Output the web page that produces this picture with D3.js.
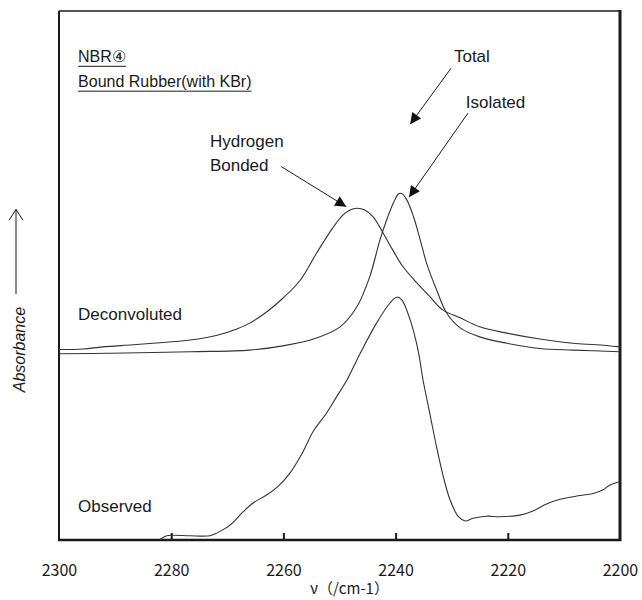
<!DOCTYPE html>
<html>
<head>
<meta charset="utf-8">
<script src="https://cdn.jsdelivr.net/npm/d3@7"></script>
<style>
  body { margin: 0; background: #fff; }
</style>
</head>
<body>
<script>
// x: wavenumber (cm-1), y: absorbance in arbitrary units (0-100)
const hbondWn = [2300.0, 2295.7, 2292.2, 2286.8, 2282.0, 2276.6, 2271.8, 2268.3, 2266.0, 2263.0, 2260.1, 2257.0, 2254.1, 2251.2, 2249.4, 2248.1, 2246.9, 2245.5, 2244.0, 2242.2, 2240.5, 2238.7, 2236.2, 2233.9, 2231.6, 2228.5, 2225.0, 2220.2, 2214.3, 2208.4, 2204.2, 2200.0];
const hbondAbs = [36.0, 36.1, 36.5, 36.9, 37.3, 37.8, 38.7, 39.9, 41.0, 43.1, 45.7, 49.1, 54.2, 59.0, 61.4, 62.4, 62.7, 62.4, 61.1, 58.0, 54.8, 51.7, 48.6, 46.0, 43.5, 42.0, 40.3, 39.1, 38.0, 37.2, 36.9, 36.5];

const isoWn = [2300.0, 2290.9, 2276.6, 2266.0, 2260.1, 2254.1, 2249.9, 2246.9, 2244.6, 2242.8, 2241.6, 2240.4, 2239.5, 2238.9, 2238.0, 2236.8, 2235.6, 2234.5, 2232.7, 2230.9, 2228.5, 2225.0, 2220.2, 2214.3, 2208.4, 2200.0];
const isoAbs = [35.2, 35.3, 35.6, 35.9, 36.7, 38.2, 40.3, 44.1, 49.8, 56.7, 60.5, 63.7, 65.4, 65.5, 64.3, 61.1, 56.7, 52.4, 47.3, 42.9, 40.1, 38.4, 37.2, 36.2, 35.9, 35.6];

const obsWn = [2282.0, 2280.8, 2279.7, 2276.6, 2273.1, 2271.9, 2269.5, 2267.2, 2265.4, 2263.0, 2261.0, 2258.8, 2256.5, 2254.7, 2252.3, 2250.5, 2248.7, 2246.3, 2243.4, 2241.0, 2239.8, 2238.9, 2237.4, 2236.0, 2235.1, 2233.9, 2232.7, 2231.5, 2230.3, 2228.8, 2227.6, 2226.2, 2223.8, 2221.4, 2217.8, 2215.5, 2213.1, 2210.7, 2207.1, 2204.8, 2203.0, 2201.8, 2200.0];
const obsAbs = [0.1, 0.8, 0.9, 0.8, 0.8, 1.3, 2.8, 5.3, 7.0, 8.5, 10.1, 12.7, 16.7, 20.5, 24.0, 27.1, 30.2, 35.3, 41.0, 44.8, 45.9, 45.4, 41.6, 35.9, 30.2, 23.9, 17.6, 12.0, 7.6, 4.4, 3.6, 4.1, 4.5, 4.4, 4.7, 5.5, 6.8, 7.7, 8.4, 8.8, 9.5, 10.4, 11.0];

const tickValues = [2300, 2280, 2260, 2240, 2220, 2200];
const innerTicks = [2280, 2260, 2240, 2220];

// annotation texts, placed in data units [wavenumber, absorbance]
const titleLines = ["NBR\u2463", "Bound Rubber(with KBr)"];
const titlePos = [[2296.6, 90.3], [2296.6, 85.6]];
const labels = ["Total", "Isolated", "Hydrogen", "Bonded", "Deconvoluted", "Observed"];
const labelPos = [[2229.6, 90.3], [2227.5, 81.6], [2273.1, 74.3], [2273.1, 69.7], [2296.6, 41.6], [2296.6, 5.3]];
// arrows: [from, to]
const arrows = [
  [[2230.1, 89.2], [2237.4, 78.6]],
  [[2227.1, 80.7], [2237.6, 64.8]],
  [[2260.4, 70.6], [2248.8, 63.0]]
];

const width = 642;
const height = 600;
const margin = { top: 11, right: 22, bottom: 60, left: 59 };

const x = d3.scaleLinear()
  .domain([2300, 2200])
  .range([margin.left, width - margin.right]);

const y = d3.scaleLinear()
  .domain([0, 100])
  .range([height - margin.bottom, margin.top]);

const svg = d3.select("body").append("svg")
  .attr("width", width)
  .attr("height", height)
  .attr("viewBox", `0 0 ${width} ${height}`);

svg.append("defs").append("marker")
  .attr("id", "head")
  .attr("viewBox", "0 0 10 10")
  .attr("refX", 10)
  .attr("refY", 5)
  .attr("markerWidth", 15)
  .attr("markerHeight", 11)
  .attr("markerUnits", "userSpaceOnUse")
  .attr("orient", "auto")
  .append("path")
  .attr("d", "M0,0L10,5L0,10z")
  .attr("fill", "#111");

// frame, uneven line weights like the scanned figure
const x0 = x.range()[0], x1 = x.range()[1];
const yb = y.range()[0], yt = y.range()[1];
const frame = svg.append("g").attr("stroke", "#1a1a1a").attr("fill", "none");
frame.append("line").attr("x1", x0).attr("x2", x1).attr("y1", yt).attr("y2", yt).attr("stroke-width", 1.5);
frame.append("line").attr("x1", x0).attr("x2", x0).attr("y1", yt).attr("y2", yb).attr("stroke-width", 2);
frame.append("line").attr("x1", x1).attr("x2", x1).attr("y1", yt - 1).attr("y2", yb + 1).attr("stroke-width", 3);
frame.append("line").attr("x1", x0 - 1).attr("x2", x1 + 1).attr("y1", yb).attr("y2", yb).attr("stroke-width", 2.6);

// inner tick marks
svg.append("g")
  .attr("transform", `translate(0,${yb})`)
  .call(d3.axisBottom(x).tickValues(innerTicks).tickSizeInner(-7).tickSizeOuter(0).tickFormat(""))
  .call((g) => g.select(".domain").remove())
  .call((g) => g.selectAll(".tick line").attr("stroke", "#1a1a1a").attr("stroke-width", 2));

// tick labels
svg.append("g")
  .attr("transform", `translate(0,${yb + 22})`)
  .call(d3.axisBottom(x).tickValues(tickValues).tickSize(0).tickFormat(d3.format("d")))
  .call((g) => g.select(".domain").remove())
  .call((g) => g.selectAll(".tick text")
    .attr("fill", "#1a1a1a")
    .attr("font-family", "'Noto Sans CJK JP', sans-serif")
    .attr("font-size", "16px"));

// x title
svg.append("text")
  .attr("x", (x0 + x1) / 2 + 10)
  .attr("y", 594)
  .attr("text-anchor", "middle")
  .attr("fill", "#1a1a1a")
  .attr("font-family", "'Noto Sans CJK JP', sans-serif")
  .attr("font-size", "15px")
  .text("\u03bd\uff08/cm-1\uff09");

// y title with upward arrow
svg.append("text")
  .attr("transform", `translate(25,${y(36)}) rotate(-90)`)
  .attr("text-anchor", "middle")
  .attr("fill", "#1a1a1a")
  .attr("font-family", "'Liberation Sans', Arial, sans-serif")
  .attr("font-style", "italic")
  .attr("font-size", "16px")
  .text("Absorbance");

const yArrow = svg.append("g").attr("stroke", "#1a1a1a").attr("stroke-width", 1).attr("fill", "none");
yArrow.append("line").attr("x1", 16).attr("x2", 16).attr("y1", y(46.5)).attr("y2", y(62.5));
yArrow.append("path").attr("d", `M9,${y(62.5) + 11}L16,${y(62.5)}L23,${y(62.5) + 11}`);

// spectra
const line = d3.line()
  .x((d) => x(d[0]))
  .y((d) => y(d[1]))
  .curve(d3.curveCatmullRom.alpha(0.5));

[[hbondWn, hbondAbs], [isoWn, isoAbs], [obsWn, obsAbs]].forEach(([wn, ab]) => {
  svg.append("path")
    .datum(d3.zip(wn, ab))
    .attr("d", line)
    .attr("fill", "none")
    .attr("stroke", "#333")
    .attr("stroke-width", 1.1);
});

// title lines (underlined)
titleLines.forEach((t, i) => {
  const tx = svg.append("text")
    .attr("x", x(titlePos[i][0]))
    .attr("y", y(titlePos[i][1]))
    .attr("fill", "#1a1a1a")
    .attr("font-family", "'Liberation Sans', Arial, sans-serif")
    .attr("font-size", "16px")
    .text(t);
  const w = tx.node().getComputedTextLength();
  svg.append("line")
    .attr("x1", x(titlePos[i][0]))
    .attr("x2", x(titlePos[i][0]) + w)
    .attr("y1", y(titlePos[i][1]) + 4)
    .attr("y2", y(titlePos[i][1]) + 4)
    .attr("stroke", "#1a1a1a")
    .attr("stroke-width", 1);
});

labels.forEach((t, i) => {
  svg.append("text")
    .attr("x", x(labelPos[i][0]))
    .attr("y", y(labelPos[i][1]))
    .attr("fill", "#1a1a1a")
    .attr("font-family", "'Liberation Sans', Arial, sans-serif")
    .attr("font-size", "17px")
    .text(t);
});

arrows.forEach(([a, b]) => {
  svg.append("line")
    .attr("x1", x(a[0]))
    .attr("y1", y(a[1]))
    .attr("x2", x(b[0]))
    .attr("y2", y(b[1]))
    .attr("stroke", "#1a1a1a")
    .attr("stroke-width", 1)
    .attr("marker-end", "url(#head)");
});
</script>
</body>
</html>
